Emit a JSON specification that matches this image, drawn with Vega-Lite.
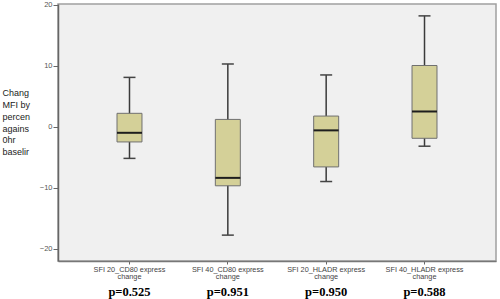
{
  "$schema": "https://vega.github.io/schema/vega-lite/v6.json",
  "width": 438,
  "height": 257,
  "autosize": {"type": "none"},
  "padding": {"left": 58, "top": 4, "right": 4, "bottom": 38},
  "background": "white",
  "config": {
    "view": {"fill": "#f0f0f0", "stroke": "#a0a0a0", "strokeWidth": 1.5},
    "axis": {"grid": false}
  },
  "data": {
    "values": [
      {"cat": "SFI 20_CD80 express change", "p": "p=0.525", "min": -5.2, "q1": -2.5, "median": -1.0, "q3": 2.2, "max": 8.1},
      {"cat": "SFI 40_CD80 express change", "p": "p=0.951", "min": -17.8, "q1": -9.7, "median": -8.4, "q3": 1.2, "max": 10.3},
      {"cat": "SFI 20_HLADR express change", "p": "p=0.950", "min": -9.0, "q1": -6.6, "median": -0.6, "q3": 1.75, "max": 8.5},
      {"cat": "SFI 40_HLADR express change", "p": "p=0.588", "min": -3.2, "q1": -1.9, "median": 2.5, "q3": 10.05, "max": 18.2}
    ]
  },
  "resolve": {"scale": {"x": "independent"}, "axis": {"x": "independent"}},
  "layer": [
    {
      "mark": {"type": "rule", "color": "#3a3a3a", "strokeWidth": 1.5},
      "encoding": {
        "x": {"field": "cat", "type": "nominal", "sort": null,
          "scale": {"paddingInner": 0.746, "paddingOuter": 0.6},
          "axis": {"orient": "bottom", "title": null, "labelAngle": 0, "labelFont": "Liberation Sans", "labelFontSize": 7.3, "labelColor": "#444", "labelLineHeight": 7.5, "labelPadding": 1, "tickSize": 3, "tickColor": "#666", "domainColor": "#777", "domainWidth": 1.5,
            "labelExpr": "[replace(datum.label, ' change', ''), 'change']"}},
        "y": {"field": "min", "type": "quantitative",
          "scale": {"domain": [-22.05, 20.15], "nice": false, "zero": false},
          "axis": {"values": [-20, -10, 0, 10, 20], "title": ["Chang", "MFI by", "percen", "agains", "0hr", "baselir"],
            "titleAngle": 0, "titleAlign": "left", "titleBaseline": "middle", "titleX": -56, "titleY": 88.7,
            "titleFont": "Liberation Sans", "titleFontSize": 9, "titleFontWeight": "normal", "titleColor": "#222", "titleLineHeight": 11.8,
            "labelFont": "Liberation Sans", "labelFontSize": 7.5, "labelColor": "#555", "tickSize": 5, "tickColor": "#666", "labelPadding": 1,
            "domainColor": "#666", "domainWidth": 1.5}},
        "y2": {"field": "max"}
      }
    },
    {
      "mark": {"type": "bar", "fill": "#d4d098", "stroke": "#707070", "strokeWidth": 1},
      "encoding": {
        "x": {"field": "cat", "type": "nominal", "sort": null, "scale": {"paddingInner": 0.746, "paddingOuter": 0.6}, "axis": null},
        "y": {"field": "q1", "type": "quantitative"},
        "y2": {"field": "q3"}
      }
    },
    {
      "mark": {"type": "tick", "color": "#1e1e1e", "thickness": 2, "size": 25, "opacity": 1},
      "encoding": {
        "x": {"field": "cat", "type": "nominal", "sort": null, "scale": {"paddingInner": 0.746, "paddingOuter": 0.6}, "axis": null},
        "y": {"field": "median", "type": "quantitative"}
      }
    },
    {
      "mark": {"type": "tick", "color": "#444", "thickness": 1.5, "size": 12, "opacity": 1},
      "encoding": {
        "x": {"field": "cat", "type": "nominal", "sort": null, "scale": {"paddingInner": 0.746, "paddingOuter": 0.6}, "axis": null},
        "y": {"field": "max", "type": "quantitative"}
      }
    },
    {
      "mark": {"type": "tick", "color": "#444", "thickness": 1.5, "size": 12, "opacity": 1},
      "encoding": {
        "x": {"field": "p", "type": "nominal", "sort": null,
          "scale": {"paddingInner": 0.746, "paddingOuter": 0.6},
          "axis": {"orient": "bottom", "title": null, "labelAngle": 0, "domain": false, "ticks": false, "labelFont": "Liberation Serif", "labelFontSize": 12.5, "labelFontWeight": "bold", "labelColor": "#000", "labelBaseline": "middle", "labelPadding": 30}},
        "y": {"field": "min", "type": "quantitative"}
      }
    }
  ]
}
